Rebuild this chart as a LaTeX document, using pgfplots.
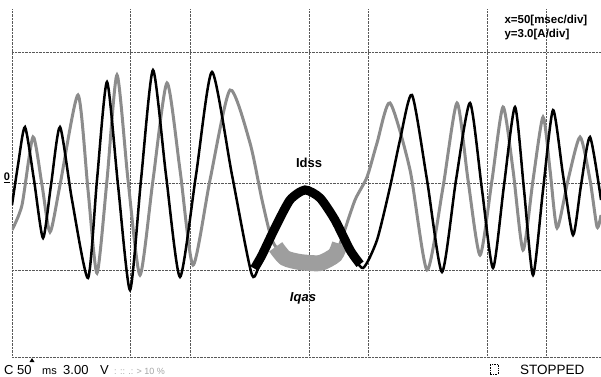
\documentclass[border=0pt]{standalone}
\usepackage{pgfplots}
\pgfplotsset{compat=1.18}
\usepackage{fontspec}
\setmainfont{Liberation Sans}
\begin{document}
\begin{tikzpicture}[x=1pt,y=1pt]
\useasboundingbox (0,0) rectangle (601,376);
\fill[white] (0,0) rectangle (601,376);
\begin{axis}[
  at={(12pt,19pt)}, anchor=south west,
  scale only axis, width=589pt, height=348pt,
  xmin=0, xmax=495.8, ymin=-12, ymax=12,
  axis line style={draw=none},
  xtick={0,100,150,250,300,400,450},
  ytick={-12,-6,0,9},
  xticklabels={}, yticklabels={},
  major tick length=0pt,
  grid=major,
  major grid style={densely dotted, black!65, line width=0.7pt},
]
% Iqas (grey trace), time in ms, current in A
\addplot[black!45, line width=3pt, smooth, tension=0.4] coordinates {
(0,-3.24) (8.42,-1.52) (17.68,3.17) (25.25,-0.14) (31.99,-3.38) (40.41,-0.14)
(55.56,6.07) (63.98,-0.48) (71.55,-6.21) (79.97,0.21) (88.39,7.45) (97.65,0.21)
(107.75,-6.35) (118.69,0.21) (130.48,6.90) (141.42,0.90) (152.37,-5.66) (166.68,0.21)
(183.51,6.41) (200.35,2.76) (210.45,-1.17) (218.87,-3.93) (229.81,-5.17) (242.44,-5.45)
(259.27,-5.52) (271.90,-4.97) (278.64,-3.59) (288.74,-1.17) (298.84,0.41) (307.26,2.76)
(318.20,5.52) (335.04,0.90) (349.35,-6.00) (362.82,-0.28) (374.60,5.52) (383.86,0.21)
(393.96,-4.97) (404.06,0.21) (413.32,5.24) (421.74,0.90) (430.16,-4.62) (438.58,0.21)
(447.00,4.55) (452.89,0.90) (458.79,-3.10) (468.05,0.21) (478.15,3.17) (486.56,0.21)
(492.46,-3.03) (495.83,-2.21)
};
% Iqas noisy band around the slow dip
\addplot[black!38, line width=16pt, smooth, tension=0.4] coordinates {
(222,-4.4) (229.81,-5.17) (242.44,-5.45) (259.27,-5.52) (271.90,-4.97) (276,-4.2)
};
% Idss (black trace)
\addplot[black, line width=2.5pt, smooth, tension=0.4] coordinates {
(0,-1.52) (5.05,1.24) (10.94,3.86) (18.52,0.21) (26.10,-3.79) (32.83,-0.14)
(40.41,3.86) (50.51,-1.17) (63.98,-6.55) (71.55,0.21) (79.97,6.97) (89.23,-0.14)
(99.33,-7.38) (108.59,0.21) (118.69,7.79) (129.64,0.55) (141.42,-6.48) (154.89,0.55)
(168.36,7.66) (185.20,0.55) (202.03,-6.35) (210.45,-4.97) (221.39,-3.10) (234.02,-1.17)
(246.65,-0.48) (259.27,-1.03) (271.90,-2.55) (284.53,-4.62) (295.47,-5.86) (307.26,-3.93)
(318.20,-0.28) (326.62,2.97) (336.72,6.07) (349.35,0.21) (361.97,-6.14) (373.76,0.21)
(385.54,5.52) (395.65,-0.48) (404.91,-5.86) (414.17,-0.14) (423.43,5.24) (431.00,-0.48)
(438.58,-6.35) (447.00,-0.48) (455.42,5.03) (463.84,0.55) (472.25,-3.59) (478.99,-0.14)
(486.56,3.17) (495.83,-1.17)
};
% Idss noisy band around the slow hump
\addplot[black, line width=9pt, smooth, tension=0.4] coordinates {
(204,-5.9) (210.45,-4.97) (221.39,-3.10) (234.02,-1.17) (246.65,-0.48) (259.27,-1.03)
(271.90,-2.55) (284.53,-4.62) (293,-5.6)
};
\end{axis}
% trace names
\node[font=\fontsize{13}{13}\selectfont\bfseries] at (309,213) {Idss};
\node[font=\fontsize{13}{13}\selectfont\bfseries\itshape] at (303,78) {Iqas};
% scale note
\node[anchor=west, font=\fontsize{11.5}{11.5}\selectfont\bfseries] at (501,355) {x=50[msec/div]};
\node[anchor=west, font=\fontsize{11.5}{11.5}\selectfont\bfseries] at (501,341) {y=3.0[A/div]};
% zero marker
\node[font=\fontsize{11}{11}\selectfont\bfseries] at (7,198) {\underline{0}};
% status line
\begin{scope}[every node/.style={anchor=base west, inner sep=0pt}]
\node[font=\fontsize{13}{13}\selectfont] at (4,2) {C};
\node[font=\fontsize{13}{13}\selectfont] at (17,2) {50};
\node[font=\fontsize{11}{11}\selectfont] at (42,2) {ms};
\node[font=\fontsize{13}{13}\selectfont] at (63,2) {3.00};
\node[font=\fontsize{13}{13}\selectfont] at (100,2) {V};
\node[font=\fontsize{9}{9}\selectfont, text=black!35] at (114,2) {: :: .: > 10 \%};
\node[font=\fontsize{13.5}{13.5}\selectfont] at (520,2) {STOPPED};
\end{scope}
\fill (29.5,14) -- (34.5,14) -- (32,18) -- cycle;
\draw[densely dotted, line width=0.7pt] (490,2) rectangle (498,12);
\end{tikzpicture}
\end{document}
